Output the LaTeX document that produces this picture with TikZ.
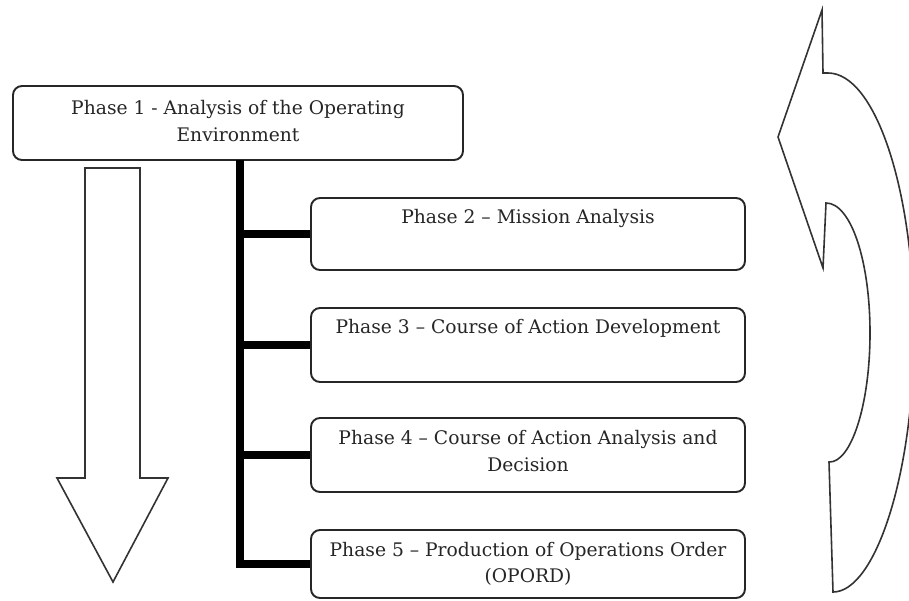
\documentclass[tikz,border=0pt]{standalone}
\usepackage{fontspec}
\setmainfont{DejaVu Serif}
\begin{document}
\begin{tikzpicture}[x=1pt,y=-1pt,
  box/.style={draw=black!85, line width=1.9pt, rounded corners=9pt, fill=white, inner sep=0pt},
  txt/.style={text=black!85, align=center, font=\fontsize{18.7}{26.5}\selectfont, inner sep=0pt},
  trunk/.style={draw=black, line width=8.5pt},
  shapeline/.style={draw=black!80, line width=1.6pt, line join=miter, fill=white}]
\useasboundingbox (0,0) rectangle (909,600);
% boxes
\node[box, minimum width=450pt, minimum height=74pt] (p1) at (238,123) {};
\node[box, minimum width=434pt, minimum height=72pt] (p2) at (528,234) {};
\node[box, minimum width=434pt, minimum height=74pt] (p3) at (528,345) {};
\node[box, minimum width=434pt, minimum height=74pt] (p4) at (528,455) {};
\node[box, minimum width=434pt, minimum height=68pt] (p5) at (528,564) {};
% texts
\node[txt] (t1) at (238,121) {Phase 1 - Analysis of the Operating\\Environment};
\node[txt] (t2) at (528,218) {Phase 2 -- Mission Analysis};
\node[txt] (t3) at (528,328) {Phase 3 -- Course of Action Development};
\node[txt] (t4) at (528,451) {Phase 4 -- Course of Action Analysis and\\Decision};
\node[txt] (t5) at (528,564) {Phase 5 -- Production of Operations Order\\(OPORD)};
% trunk connectors
\coordinate (c0) at (240,160);
\coordinate (c5) at (c0 |- p5.west);
\draw[trunk] (c0) -- ([yshift=-4.25pt]c5);
\draw[trunk] (c0 |- p2.west) -- (p2.west);
\draw[trunk] (c0 |- p3.west) -- (p3.west);
\draw[trunk] (c0 |- p4.west) -- (p4.west);
\draw[trunk] ([xshift=-4.25pt]c5) -- (p5.west);
% down arrow
\draw[shapeline] (85,168) -- (140,168) -- (140,478) -- (168,478) -- (113,582) -- (57,478) -- (85,478) -- cycle;
% curved arrow
\draw[shapeline] (822,10) -- (823,73) -- (828,73)
  .. controls (875,73) and (914,189) .. (914,332)
  .. controls (914,475) and (875,592) .. (833,592)
  -- (829,462)
  .. controls (851,463) and (870,405) .. (870,333)
  .. controls (870,261) and (851,203) .. (826,203)
  -- (823,268) -- (778,137) -- cycle;
\end{tikzpicture}
\end{document}
